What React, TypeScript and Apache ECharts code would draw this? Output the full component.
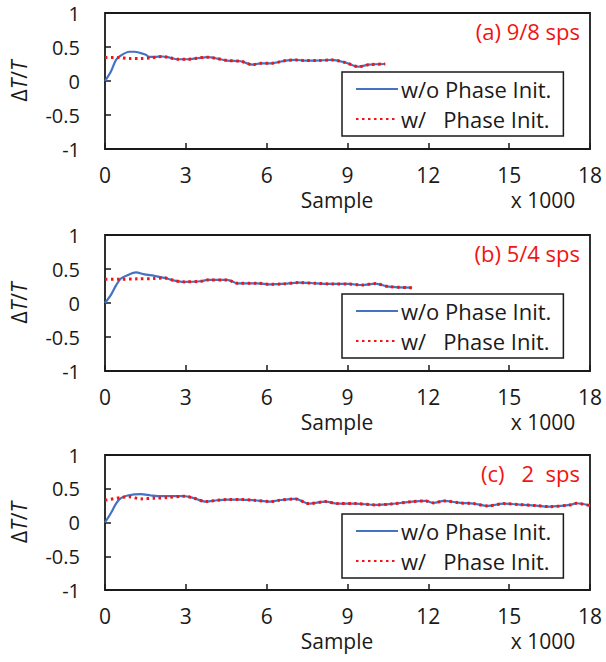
import React, { useEffect, useRef } from "react";
import * as echarts from "echarts";

// x in thousands of samples
const xA = [0, 0.22, 0.41, 0.59, 0.9, 1.09, 1.33, 1.52, 1.64, 1.83, 2.14, 2.32, 2.69, 3.06, 3.43, 3.8, 4.17, 4.54, 5.04, 5.47, 5.78, 6.15, 6.7, 7.07, 7.44, 7.81, 8.42, 8.93, 9.42, 9.79, 10.4];
const blueA = [0, 0.14, 0.31, 0.375, 0.43, 0.43, 0.41, 0.385, 0.355, 0.355, 0.36, 0.35, 0.32, 0.32, 0.335, 0.35, 0.33, 0.3, 0.29, 0.24, 0.26, 0.26, 0.3, 0.31, 0.3, 0.3, 0.31, 0.27, 0.21, 0.24, 0.25];
const redAx = [0, 0.5, 0.9, 1.33, 1.7, 2.14, 2.32, 2.69, 3.06, 3.43, 3.8, 4.17, 4.54, 5.04, 5.47, 5.78, 6.15, 6.7, 7.07, 7.44, 7.81, 8.42, 8.93, 9.42, 9.79, 10.4];
const redA = [0.345, 0.345, 0.33, 0.33, 0.34, 0.36, 0.35, 0.32, 0.32, 0.335, 0.35, 0.33, 0.3, 0.29, 0.24, 0.26, 0.26, 0.3, 0.31, 0.3, 0.3, 0.31, 0.27, 0.21, 0.24, 0.25];

const xB = [0, 0.22, 0.41, 0.59, 0.84, 1.15, 1.46, 1.83, 2.2, 2.57, 2.94, 3.56, 3.8, 4.54, 4.91, 5.65, 6.15, 6.58, 7.2, 7.81, 8.42, 9.04, 9.54, 10.04, 10.53, 11.4];
const blueB = [0, 0.12, 0.26, 0.36, 0.41, 0.45, 0.42, 0.4, 0.37, 0.33, 0.31, 0.32, 0.34, 0.34, 0.29, 0.29, 0.275, 0.28, 0.3, 0.29, 0.28, 0.28, 0.265, 0.285, 0.24, 0.225];
const redBx = [0, 0.6, 1.2, 1.83, 2.2, 2.57, 2.94, 3.56, 3.8, 4.54, 4.91, 5.65, 6.15, 6.58, 7.2, 7.81, 8.42, 9.04, 9.54, 10.04, 10.53, 11.4];
const redB = [0.35, 0.35, 0.355, 0.36, 0.37, 0.33, 0.31, 0.32, 0.34, 0.34, 0.29, 0.29, 0.275, 0.28, 0.3, 0.29, 0.28, 0.28, 0.265, 0.285, 0.24, 0.225];

const xC = [0, 0.22, 0.41, 0.59, 0.84, 1.33, 1.7, 1.95, 2.32, 2.94, 3.3, 3.74, 4.17, 4.54, 5.04, 5.53, 6.15, 6.46, 7.07, 7.56, 8.19, 8.62, 9.3, 10.04, 10.65, 11.4, 11.9, 12.2, 12.57, 13.19, 13.68, 14.2, 14.79, 15.41, 16.0, 16.5, 17.26, 17.5, 18.0];
const blueC = [0, 0.14, 0.28, 0.36, 0.4, 0.42, 0.4, 0.39, 0.39, 0.39, 0.36, 0.31, 0.33, 0.34, 0.34, 0.33, 0.31, 0.33, 0.35, 0.28, 0.31, 0.28, 0.28, 0.26, 0.275, 0.31, 0.32, 0.29, 0.32, 0.29, 0.28, 0.245, 0.28, 0.265, 0.25, 0.235, 0.26, 0.285, 0.25];
const redCx = [0, 0.59, 0.9, 1.33, 1.83, 2.32, 2.94, 3.3, 3.74, 4.17, 4.54, 5.04, 5.53, 6.15, 6.46, 7.07, 7.56, 8.19, 8.62, 9.3, 10.04, 10.65, 11.4, 11.9, 12.2, 12.57, 13.19, 13.68, 14.2, 14.79, 15.41, 16.0, 16.5, 17.26, 17.5, 18.0];
const redC = [0.33, 0.37, 0.38, 0.35, 0.36, 0.37, 0.39, 0.36, 0.31, 0.33, 0.34, 0.34, 0.33, 0.31, 0.33, 0.35, 0.28, 0.31, 0.28, 0.28, 0.26, 0.275, 0.31, 0.32, 0.29, 0.32, 0.29, 0.28, 0.245, 0.28, 0.265, 0.25, 0.235, 0.26, 0.285, 0.25];

const panelTitles = ["(a) 9/8 sps", "(b) 5/4 sps", "(c)   2  sps"];
const seriesNames = ["w/o Phase Init.", "w/   Phase Init."];
const xTicks = { min: 0, max: 18, interval: 3 };
const yTicks = { min: -1, max: 1, interval: 0.5 };

const FONT = "'Open Sans', sans-serif";
const BLUE = "#4472C4";
const RED = "#f01414";
const INK = "#1a1a1a";

const pair = (xs: number[], ys: number[]) => xs.map((x, i) => [x, ys[i]]);

export default function App() {
  const ref = useRef<HTMLDivElement>(null);
  useEffect(() => {
    if (!ref.current) return;
    const chart = echarts.init(ref.current, undefined, { renderer: "svg" });
    const tops = [13, 235, 455];
    const heights = [136, 136, 135];
    const data = [
      [xA, blueA, redAx, redA],
      [xB, blueB, redBx, redB],
      [xC, blueC, redCx, redC],
    ];
    const grids = tops.map((t, i) => ({
      left: 104,
      top: t,
      width: 486,
      height: heights[i],
      show: true,
      borderColor: INK,
      borderWidth: 1.8,
      backgroundColor: "transparent",
    }));
    const xAxes = tops.map((_, i) => ({
      type: "value",
      gridIndex: i,
      min: xTicks.min,
      max: xTicks.max,
      interval: xTicks.interval,
      axisLine: { show: false, onZero: false },
      axisTick: { show: true, inside: true, length: 6, lineStyle: { color: INK, width: 1.5 } },
      splitLine: { show: false },
      axisLabel: { fontFamily: FONT, fontSize: 21, color: INK, margin: 15 },
    }));
    const yAxes = tops.map((_, i) => ({
      type: "value",
      gridIndex: i,
      min: yTicks.min,
      max: yTicks.max,
      interval: yTicks.interval,
      axisLine: { show: false, onZero: false },
      axisTick: { show: true, inside: true, length: 6, lineStyle: { color: INK, width: 1.5 } },
      splitLine: { show: false },
      axisLabel: { fontFamily: FONT, fontSize: 20, color: INK, margin: 25 },
      name: "{n|Δ}{i|T}{n|/}{i|T}",
      nameLocation: "middle",
      nameRotate: 90,
      nameGap: 76,
      nameTextStyle: {
        rich: {
          n: { fontFamily: FONT, fontSize: 21, color: INK },
          i: { fontFamily: FONT, fontSize: 21, color: INK, fontStyle: "italic" },
        },
      },
    }));
    const series: any[] = [];
    data.forEach((d, i) => {
      series.push({
        type: "line",
        name: seriesNames[0],
        xAxisIndex: i,
        yAxisIndex: i,
        data: pair(d[0], d[1]),
        showSymbol: false,
        symbol: "none",
        smooth: 0.3,
        lineStyle: { color: BLUE, width: 2.2 },
        itemStyle: { color: BLUE },
        z: 2,
      });
      series.push({
        type: "line",
        name: seriesNames[1],
        xAxisIndex: i,
        yAxisIndex: i,
        data: pair(d[2], d[3]),
        showSymbol: false,
        symbol: "none",
        smooth: 0.3,
        lineStyle: { color: RED, width: 3, type: [2.5, 3.5] },
        itemStyle: { color: RED },
        z: 3,
      });
    });
    const legends = tops.map((t) => ({
      data: seriesNames,
      orient: "vertical",
      left: 342,
      top: t + 59,
      padding: [6, 12, 6, 13],
      itemGap: 8,
      itemWidth: 42,
      itemHeight: 22,
      selectedMode: false,
      backgroundColor: "#fff",
      borderColor: INK,
      borderWidth: 1.5,
      itemStyle: { opacity: 0 },
      textStyle: { fontFamily: FONT, fontSize: 22, color: INK, lineHeight: 22, padding: [0, 0, 0, -2] },
    }));
    const graphic: any[] = [];
    tops.forEach((t, i) => {
      const bottom = t + heights[i];
      graphic.push({
        type: "text",
        right: 26,
        top: t + 7,
        style: { text: panelTitles[i], fontFamily: FONT, fontSize: 22, fill: RED },
      });
      graphic.push({
        type: "text",
        x: 337,
        y: bottom + 51,
        style: { text: "Sample", fontFamily: FONT, fontSize: 21, fill: INK, align: "center", verticalAlign: "middle" },
      });
      graphic.push({
        type: "text",
        x: 543,
        y: bottom + 51,
        style: { text: "x 1000", fontFamily: FONT, fontSize: 21, fill: INK, align: "center", verticalAlign: "middle" },
      });
    });
    chart.setOption({
      animation: false,
      backgroundColor: "#fff",
      grid: grids,
      xAxis: xAxes,
      yAxis: yAxes,
      legend: legends,
      series,
      graphic,
    });
    return () => chart.dispose();
  }, []);
  return (
    <div
      ref={ref}
      style={{ position: "absolute", left: 0, top: 0, width: 606, height: 662 }}
    />
  );
}
